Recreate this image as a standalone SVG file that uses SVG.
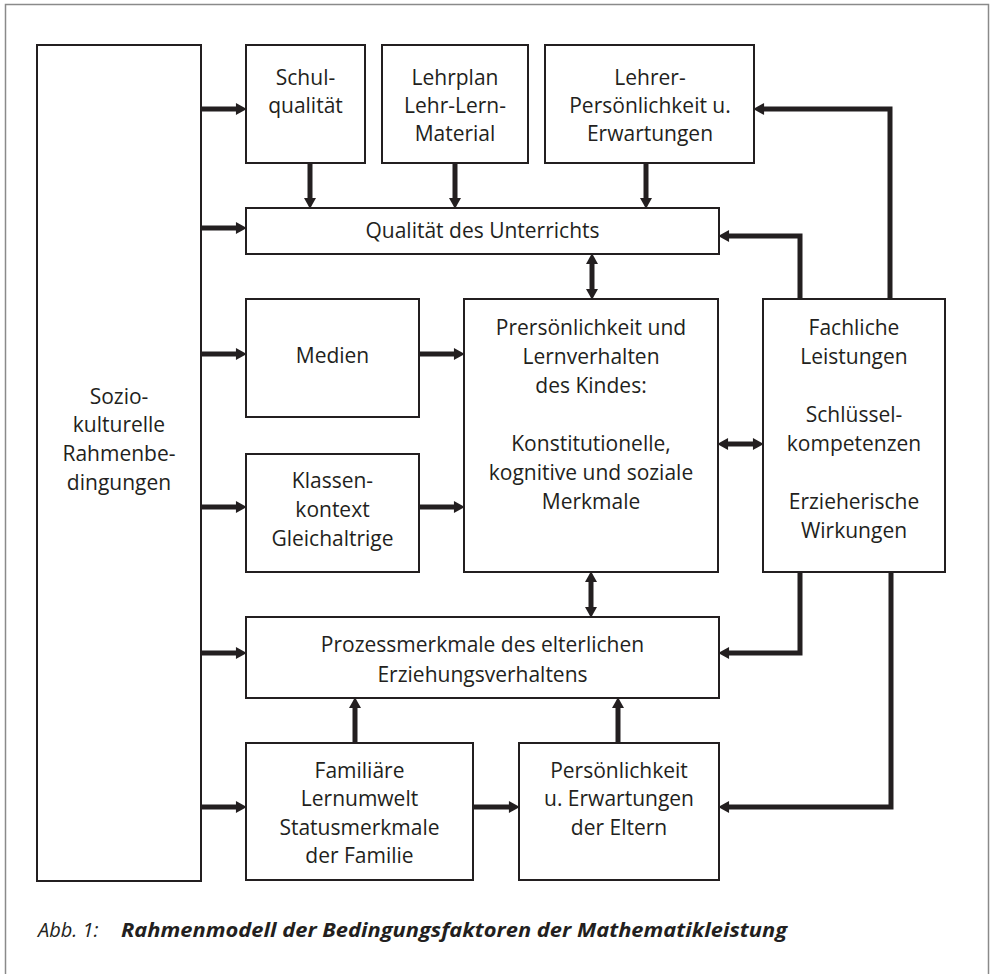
<svg xmlns="http://www.w3.org/2000/svg" width="990" height="974" viewBox="0 0 990 974">
<style>
.box{fill:#fff;stroke:#231f20;stroke-width:2}
.t{font-family:"Open Sans","Noto Sans",sans-serif;font-size:21px;fill:#231f20;text-anchor:middle}
.c{fill:none;stroke:#231f20;stroke-width:5}
.a{marker-end:url(#ah)}
.d{marker-start:url(#ah);marker-end:url(#ah)}
.cap{font-family:"Open Sans","Noto Sans",sans-serif;font-size:20px;fill:#231f20;font-style:italic}
</style>
<defs>
<marker id="ah" markerUnits="userSpaceOnUse" markerWidth="12" markerHeight="12" viewBox="0 0 10 11" refX="1" refY="5.5" orient="auto-start-reverse">
<path d="M0,0 L10,5.5 L0,11 z" fill="#231f20"/>
</marker>
</defs>
<rect width="990" height="974" fill="#fff"/>
<path d="M5.5,974 V4.5 H988.5 V974" fill="none" stroke="#8a8a8a" stroke-width="1.5"/>

<g id="connectors">
<line class="c a" x1="201" y1="109" x2="237" y2="109"/>
<line class="c a" x1="201" y1="228" x2="237" y2="228"/>
<line class="c a" x1="201" y1="354" x2="237" y2="354"/>
<line class="c a" x1="201" y1="507" x2="237" y2="507"/>
<line class="c a" x1="201" y1="653" x2="237" y2="653"/>
<line class="c a" x1="201" y1="807" x2="237" y2="807"/>
<line class="c a" x1="310" y1="163" x2="310" y2="199"/>
<line class="c a" x1="455" y1="163" x2="455" y2="199"/>
<line class="c a" x1="646" y1="163" x2="646" y2="199"/>
<line class="c d" x1="592" y1="263" x2="592" y2="290"/>
<line class="c a" x1="419" y1="354" x2="455" y2="354"/>
<line class="c a" x1="419" y1="507" x2="455" y2="507"/>
<line class="c d" x1="727" y1="444" x2="754" y2="444"/>
<line class="c d" x1="591" y1="581" x2="591" y2="608"/>
<line class="c a" x1="355" y1="743" x2="355" y2="707"/>
<line class="c a" x1="618" y1="743" x2="618" y2="707"/>
<line class="c a" x1="473" y1="807" x2="510" y2="807"/>
<polyline class="c a" points="800,299 800,236 728,236"/>
<polyline class="c a" points="890,299 890,109 763,109"/>
<polyline class="c a" points="800,572 800,653 728,653"/>
<polyline class="c a" points="891,572 891,807 728,807"/>
</g>

<g id="sozio">
<rect class="box" x="37" y="45" width="164" height="836"/>
<text class="t" x="119" y="404">Sozio-</text>
<text class="t" x="119" y="432">kulturelle</text>
<text class="t" x="119" y="461">Rahmenbe-</text>
<text class="t" x="119" y="490">dingungen</text>
</g>

<g id="schulqualitaet">
<rect class="box" x="246" y="45" width="119" height="118"/>
<text class="t" x="305.5" y="85">Schul-</text>
<text class="t" x="305.5" y="113">qualität</text>
</g>

<g id="lehrplan">
<rect class="box" x="382" y="45" width="146" height="118"/>
<text class="t" x="455" y="85">Lehrplan</text>
<text class="t" x="455" y="113">Lehr-Lern-</text>
<text class="t" x="455" y="141">Material</text>
</g>

<g id="lehrer">
<rect class="box" x="545" y="45" width="209" height="118"/>
<text class="t" x="650" y="85">Lehrer-</text>
<text class="t" x="650" y="113">Persönlichkeit u.</text>
<text class="t" x="650" y="141">Erwartungen</text>
</g>

<g id="qualitaet">
<rect class="box" x="246" y="208" width="473" height="46"/>
<text class="t" x="482.5" y="238">Qualität des Unterrichts</text>
</g>

<g id="medien">
<rect class="box" x="246" y="299" width="173" height="118"/>
<text class="t" x="332.5" y="363">Medien</text>
</g>

<g id="klassen">
<rect class="box" x="246" y="454" width="173" height="118"/>
<text class="t" x="332.5" y="488">Klassen-</text>
<text class="t" x="332.5" y="517">kontext</text>
<text class="t" x="332.5" y="546">Gleichaltrige</text>
</g>

<g id="kind">
<rect class="box" x="464" y="299" width="254" height="273"/>
<text class="t" x="591" y="335">Prersönlichkeit und</text>
<text class="t" x="591" y="364">Lernverhalten</text>
<text class="t" x="591" y="393">des Kindes:</text>
<text class="t" x="591" y="451">Konstitutionelle,</text>
<text class="t" x="591" y="480">kognitive und soziale</text>
<text class="t" x="591" y="509">Merkmale</text>
</g>

<g id="leistungen">
<rect class="box" x="763" y="299" width="182" height="273"/>
<text class="t" x="854" y="335">Fachliche</text>
<text class="t" x="854" y="364">Leistungen</text>
<text class="t" x="854" y="422">Schlüssel-</text>
<text class="t" x="854" y="451">kompetenzen</text>
<text class="t" x="854" y="509">Erzieherische</text>
<text class="t" x="854" y="538">Wirkungen</text>
</g>

<g id="prozess">
<rect class="box" x="246" y="617" width="473" height="81"/>
<text class="t" x="482.5" y="652">Prozessmerkmale des elterlichen</text>
<text class="t" x="482.5" y="682">Erziehungsverhaltens</text>
</g>

<g id="familie">
<rect class="box" x="246" y="743" width="227" height="137"/>
<text class="t" x="359.5" y="778">Familiäre</text>
<text class="t" x="359.5" y="806">Lernumwelt</text>
<text class="t" x="359.5" y="835">Statusmerkmale</text>
<text class="t" x="359.5" y="863">der Familie</text>
</g>

<g id="eltern">
<rect class="box" x="519" y="743" width="200" height="137"/>
<text class="t" x="619" y="778">Persönlichkeit</text>
<text class="t" x="619" y="806">u. Erwartungen</text>
<text class="t" x="619" y="835">der Eltern</text>
</g>

<g id="caption">
<text class="cap" x="38" y="937">Abb. 1:</text>
<text class="cap" x="121" y="937" font-weight="bold" textLength="666" lengthAdjust="spacingAndGlyphs">Rahmenmodell der Bedingungsfaktoren der Mathematikleistung</text>
</g>
</svg>
